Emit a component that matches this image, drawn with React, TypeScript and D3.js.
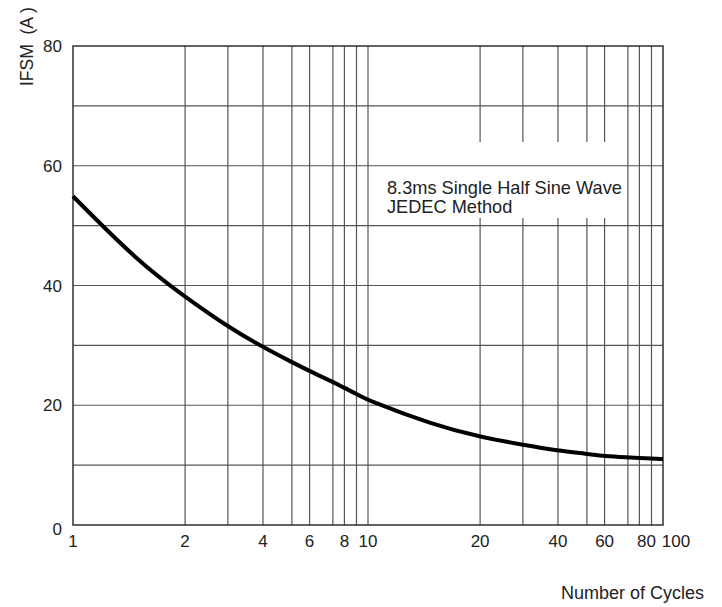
import React from "react";
import * as d3 from "d3";

// surge current vs. number of cycles
const cycles = [1, 1.5, 2, 3, 4, 5, 6, 7, 8, 9, 10, 15, 20, 30, 40, 50, 60, 70, 80, 90, 100];
const ifsm = [54.9, 43.9, 38.1, 33.1, 29.7, 27.2, 25.7, 23.9, 22.9, 21.9, 20.8, 16.7, 14.7, 13.4, 12.4, 11.9, 11.5, 11.3, 11.2, 11.1, 11.0];

const yTicks = [0, 20, 40, 60, 80];
const yGrid = [10, 20, 30, 40, 50, 60, 70];
const xTickLabels = [1, 2, 4, 6, 8, 10, 20, 40, 60, 80, 100];
const xGrid = [2, 3, 4, 5, 6, 7, 8, 9, 10, 20, 30, 40, 50, 60, 70, 80, 90];
const noteLines = ["8.3ms Single Half Sine Wave", "JEDEC Method"];

// the printed grid is not a true log scale, so position of each mantissa within a decade
const mantissa = [1, 2, 3, 4, 5, 6, 7, 8, 9, 10];
const mantissaFrac = [0, 0.38, 0.525, 0.644, 0.742, 0.802, 0.881, 0.92, 0.961, 1];

const W = 722;
const H = 607;
const left = 73;
const right = 663;
const top = 46;
const bottom = 525;
const font = "'Liberation Sans', Arial, sans-serif";

const decade = right - left;
const xDomain: number[] = [];
const xRange: number[] = [];
[0, 1].forEach((d) => {
  mantissa.forEach((m, i) => {
    if (d === 1 && i === 0) return;
    xDomain.push(d + Math.log10(m));
    xRange.push(left + (d + mantissaFrac[i]) * decade / 2);
  });
});
const xs = d3.scaleLinear().domain(xDomain).range(xRange);
const x = (v: number) => xs(Math.log10(v));
const y = d3.scaleLinear().domain([0, 80]).range([bottom, top]);

const labelShift: Record<number, number> = { 80: 7, 100: 13 };

export default function App() {
  const pts = cycles.map((c, i) => [x(c), y(ifsm[i])] as [number, number]);
  // basis smooths out the small reading errors like the hand drawn original
  const path = d3.line().curve(d3.curveBasis)(pts) || "";

  const gapTop = 142;
  const gapBottom = 218;

  return (
    <svg
      width={W}
      height={H}
      style={{ position: "absolute", left: 0, top: 0, background: "#fff" }}
      fontFamily={font}
    >
      {yGrid.map((v) => (
        <line key={"h" + v} x1={left} x2={right} y1={y(v)} y2={y(v)} stroke="#555" strokeWidth={1.2} />
      ))}
      {xGrid.map((v) => {
        const gx = x(v);
        // the note box interrupts the lines between 20 and 60
        if (v > 10 && v < 70) {
          return (
            <g key={"v" + v}>
              <line x1={gx} x2={gx} y1={top} y2={gapTop} stroke="#555" strokeWidth={1.2} />
              <line x1={gx} x2={gx} y1={gapBottom} y2={bottom} stroke="#555" strokeWidth={1.2} />
            </g>
          );
        }
        return <line key={"v" + v} x1={gx} x2={gx} y1={top} y2={bottom} stroke="#555" strokeWidth={1.2} />;
      })}
      <rect x={left} y={top} width={right - left} height={bottom - top} fill="none" stroke="#222" strokeWidth={1.4} />

      <path d={path} fill="none" stroke="#000" strokeWidth={4} strokeLinejoin="round" />

      {yTicks.map((v) => (
        <text key={"yl" + v} x={62} y={y(v) + (v === 0 ? 10 : 6)} textAnchor="end" fontSize={17} fill="#222">
          {v}
        </text>
      ))}
      {xTickLabels.map((v) => (
        <text key={"xl" + v} x={x(v) + (labelShift[v] || 0)} y={547} textAnchor="middle" fontSize={17} fill="#222">
          {v}
        </text>
      ))}

      {noteLines.map((t, i) => (
        <text key={t} x={387} y={194 + i * 19} fontSize={18.2} fill="#222">
          {t}
        </text>
      ))}

      <text x={704} y={599} textAnchor="end" fontSize={18} fill="#222">
        Number of Cycles
      </text>
      <text
        transform="translate(33,86) rotate(-90)"
        fontSize={17.5}
        fill="#222"
        style={{ whiteSpace: "pre" }}
      >
        {"IFSM  (A )"}
      </text>
    </svg>
  );
}
